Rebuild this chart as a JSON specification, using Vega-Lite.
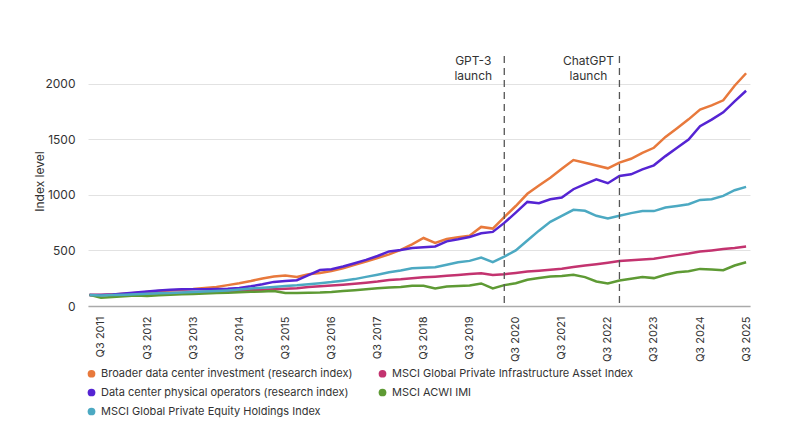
{
  "$schema": "https://vega.github.io/schema/vega-lite/v6.json",
  "width": 662,
  "height": 250,
  "autosize": "none",
  "padding": {"left": 88, "top": 56, "right": 50, "bottom": 140},
  "background": "white",
  "config": {
    "font": "Inter",
    "view": {"stroke": null},
    "axis": {"labelColor": "#333", "titleColor": "#333", "labelFontSize": 12, "titleFontSize": 12, "titleFontWeight": "normal"}
  },
  "datasets": {
    "names": [
      {"key": "bdc", "name": "Broader data center investment (research index)"},
      {"key": "inf", "name": "MSCI Global Private Infrastructure Asset Index"},
      {"key": "dcp", "name": "Data center physical operators (research index)"},
      {"key": "acwi", "name": "MSCI ACWI IMI"},
      {"key": "pe", "name": "MSCI Global Private Equity Holdings Index"}
    ],
    "events": [
      {"d": "2020-04-01", "label": ["GPT-3", "launch"]},
      {"d": "2022-10-01", "label": ["ChatGPT", "launch"]}
    ],
    "quarters": [
      {"d": "2011-04-01", "bdc": 100, "dcp": 100, "pe": 100, "inf": 100, "acwi": 100},
      {"d": "2011-07-01", "bdc": 98, "dcp": 100, "pe": 95, "inf": 100, "acwi": 74},
      {"d": "2011-10-01", "bdc": 103, "dcp": 104, "pe": 98, "inf": 102, "acwi": 80},
      {"d": "2012-01-01", "bdc": 110, "dcp": 112, "pe": 102, "inf": 105, "acwi": 88},
      {"d": "2012-04-01", "bdc": 118, "dcp": 122, "pe": 106, "inf": 108, "acwi": 95},
      {"d": "2012-07-01", "bdc": 126, "dcp": 131, "pe": 110, "inf": 111, "acwi": 90},
      {"d": "2012-10-01", "bdc": 134, "dcp": 140, "pe": 114, "inf": 114, "acwi": 96},
      {"d": "2013-01-01", "bdc": 140, "dcp": 146, "pe": 118, "inf": 117, "acwi": 101},
      {"d": "2013-04-01", "bdc": 146, "dcp": 150, "pe": 122, "inf": 120, "acwi": 105},
      {"d": "2013-07-01", "bdc": 152, "dcp": 150, "pe": 126, "inf": 123, "acwi": 108},
      {"d": "2013-10-01", "bdc": 162, "dcp": 150, "pe": 130, "inf": 126, "acwi": 112},
      {"d": "2014-01-01", "bdc": 172, "dcp": 152, "pe": 134, "inf": 130, "acwi": 118},
      {"d": "2014-04-01", "bdc": 188, "dcp": 155, "pe": 140, "inf": 134, "acwi": 120},
      {"d": "2014-07-01", "bdc": 205, "dcp": 162, "pe": 148, "inf": 138, "acwi": 124},
      {"d": "2014-10-01", "bdc": 225, "dcp": 177, "pe": 158, "inf": 142, "acwi": 128},
      {"d": "2015-01-01", "bdc": 248, "dcp": 195, "pe": 165, "inf": 146, "acwi": 130},
      {"d": "2015-04-01", "bdc": 265, "dcp": 217, "pe": 172, "inf": 150, "acwi": 135},
      {"d": "2015-07-01", "bdc": 275, "dcp": 225, "pe": 180, "inf": 155, "acwi": 118},
      {"d": "2015-10-01", "bdc": 262, "dcp": 232, "pe": 186, "inf": 160, "acwi": 118},
      {"d": "2016-01-01", "bdc": 285, "dcp": 278, "pe": 195, "inf": 170, "acwi": 120},
      {"d": "2016-04-01", "bdc": 298, "dcp": 324, "pe": 205, "inf": 178, "acwi": 122},
      {"d": "2016-07-01", "bdc": 315, "dcp": 330, "pe": 215, "inf": 185, "acwi": 127},
      {"d": "2016-10-01", "bdc": 340, "dcp": 355, "pe": 228, "inf": 192, "acwi": 135},
      {"d": "2017-01-01", "bdc": 370, "dcp": 385, "pe": 242, "inf": 200, "acwi": 142},
      {"d": "2017-04-01", "bdc": 400, "dcp": 415, "pe": 262, "inf": 210, "acwi": 150},
      {"d": "2017-07-01", "bdc": 432, "dcp": 450, "pe": 282, "inf": 220, "acwi": 160},
      {"d": "2017-10-01", "bdc": 465, "dcp": 491, "pe": 303, "inf": 233, "acwi": 167},
      {"d": "2018-01-01", "bdc": 505, "dcp": 505, "pe": 320, "inf": 240, "acwi": 172},
      {"d": "2018-04-01", "bdc": 555, "dcp": 521, "pe": 339, "inf": 250, "acwi": 182},
      {"d": "2018-07-01", "bdc": 612, "dcp": 528, "pe": 344, "inf": 258, "acwi": 182},
      {"d": "2018-10-01", "bdc": 567, "dcp": 536, "pe": 348, "inf": 264, "acwi": 158},
      {"d": "2019-01-01", "bdc": 603, "dcp": 582, "pe": 372, "inf": 272, "acwi": 175},
      {"d": "2019-04-01", "bdc": 618, "dcp": 600, "pe": 394, "inf": 280, "acwi": 179},
      {"d": "2019-07-01", "bdc": 633, "dcp": 621, "pe": 406, "inf": 287, "acwi": 185},
      {"d": "2019-10-01", "bdc": 712, "dcp": 654, "pe": 436, "inf": 294, "acwi": 203},
      {"d": "2020-01-01", "bdc": 697, "dcp": 667, "pe": 394, "inf": 279, "acwi": 158},
      {"d": "2020-04-01", "bdc": 800, "dcp": 748, "pe": 445, "inf": 285, "acwi": 188},
      {"d": "2020-07-01", "bdc": 900, "dcp": 840, "pe": 500, "inf": 298, "acwi": 205},
      {"d": "2020-10-01", "bdc": 1010, "dcp": 937, "pe": 590, "inf": 310, "acwi": 236},
      {"d": "2021-01-01", "bdc": 1085, "dcp": 925, "pe": 678, "inf": 318, "acwi": 251},
      {"d": "2021-04-01", "bdc": 1155, "dcp": 961, "pe": 758, "inf": 326, "acwi": 266},
      {"d": "2021-07-01", "bdc": 1235, "dcp": 976, "pe": 812, "inf": 336, "acwi": 269},
      {"d": "2021-10-01", "bdc": 1313, "dcp": 1051, "pe": 866, "inf": 350, "acwi": 281},
      {"d": "2022-01-01", "bdc": 1290, "dcp": 1096, "pe": 857, "inf": 364, "acwi": 260},
      {"d": "2022-04-01", "bdc": 1265, "dcp": 1140, "pe": 812, "inf": 376, "acwi": 221},
      {"d": "2022-07-01", "bdc": 1239, "dcp": 1105, "pe": 788, "inf": 390, "acwi": 203},
      {"d": "2022-10-01", "bdc": 1290, "dcp": 1170, "pe": 812, "inf": 404, "acwi": 230},
      {"d": "2023-01-01", "bdc": 1325, "dcp": 1185, "pe": 836, "inf": 412, "acwi": 245},
      {"d": "2023-04-01", "bdc": 1379, "dcp": 1230, "pe": 854, "inf": 418, "acwi": 260},
      {"d": "2023-07-01", "bdc": 1424, "dcp": 1266, "pe": 854, "inf": 426, "acwi": 251},
      {"d": "2023-10-01", "bdc": 1522, "dcp": 1349, "pe": 887, "inf": 442, "acwi": 281},
      {"d": "2024-01-01", "bdc": 1600, "dcp": 1424, "pe": 901, "inf": 458, "acwi": 304},
      {"d": "2024-04-01", "bdc": 1680, "dcp": 1498, "pe": 916, "inf": 472, "acwi": 313},
      {"d": "2024-07-01", "bdc": 1767, "dcp": 1618, "pe": 955, "inf": 490, "acwi": 334},
      {"d": "2024-10-01", "bdc": 1806, "dcp": 1678, "pe": 961, "inf": 500, "acwi": 328},
      {"d": "2025-01-01", "bdc": 1851, "dcp": 1743, "pe": 991, "inf": 512, "acwi": 322},
      {"d": "2025-04-01", "bdc": 1982, "dcp": 1842, "pe": 1042, "inf": 522, "acwi": 364},
      {"d": "2025-07-01", "bdc": 2095, "dcp": 1937, "pe": 1072, "inf": 535, "acwi": 394}
    ]
  },
  "layer": [
    {
      "data": {"name": "quarters"},
      "transform": [
        {"fold": ["bdc", "inf", "dcp", "acwi", "pe"], "as": ["key", "v"]},
        {"lookup": "key", "from": {"data": {"name": "names"}, "key": "key", "fields": ["name"]}}
      ],
      "mark": {"type": "line", "strokeWidth": 2.5},
      "encoding": {
        "x": {
          "field": "d",
          "type": "temporal",
          "scale": {"type": "utc", "domain": [{"year": 2011, "month": 3, "date": 20, "utc": true}, {"year": 2025, "month": 8, "date": 1, "utc": true}]},
          "axis": {
            "title": null,
            "values": [
              {"year": 2011, "month": 7, "date": 1, "utc": true}, {"year": 2012, "month": 7, "date": 1, "utc": true},
              {"year": 2013, "month": 7, "date": 1, "utc": true}, {"year": 2014, "month": 7, "date": 1, "utc": true},
              {"year": 2015, "month": 7, "date": 1, "utc": true}, {"year": 2016, "month": 7, "date": 1, "utc": true},
              {"year": 2017, "month": 7, "date": 1, "utc": true}, {"year": 2018, "month": 7, "date": 1, "utc": true},
              {"year": 2019, "month": 7, "date": 1, "utc": true}, {"year": 2020, "month": 7, "date": 1, "utc": true},
              {"year": 2021, "month": 7, "date": 1, "utc": true}, {"year": 2022, "month": 7, "date": 1, "utc": true},
              {"year": 2023, "month": 7, "date": 1, "utc": true}, {"year": 2024, "month": 7, "date": 1, "utc": true},
              {"year": 2025, "month": 7, "date": 1, "utc": true}
            ],
            "labelExpr": "'Q3 ' + utcFormat(datum.value, '%Y')",
            "labelAngle": -90,
            "labelFontSize": 11,
            "labelPadding": 10,
            "labelOverlap": false,
            "labelBound": false,
            "labelFlush": false,
            "ticks": false,
            "grid": false,
            "domainColor": "#aaa",
            "domainWidth": 1.5
          }
        },
        "y": {
          "field": "v",
          "type": "quantitative",
          "scale": {"domain": [0, 2250], "nice": false},
          "axis": {
            "title": "Index level",
            "values": [0, 500, 1000, 1500, 2000],
            "format": "d",
            "domain": false,
            "ticks": false,
            "labelPadding": 13,
            "titlePadding": -2,
            "gridColor": "#e2e2e2"
          }
        },
        "color": {
          "field": "name",
          "type": "nominal",
          "scale": {
            "domain": [
              "Broader data center investment (research index)",
              "Data center physical operators (research index)",
              "MSCI Global Private Equity Holdings Index",
              "MSCI Global Private Infrastructure Asset Index",
              "MSCI ACWI IMI"
            ],
            "range": ["#e8793c", "#5524d3", "#4ca9c2", "#c3336f", "#5e9a34"]
          },
          "legend": {
            "title": null,
            "orient": "none",
            "legendX": -2,
            "legendY": 312,
            "columns": 2,
            "symbolType": "circle",
            "symbolSize": 60,
            "symbolStrokeWidth": 0,
            "labelFontSize": 11,
            "labelColor": "#333",
            "labelLimit": 400,
            "rowPadding": 7,
            "columnPadding": 24,
            "encode": {"symbols": {"update": {"fill": {"scale": "color", "field": "value"}, "fillOpacity": {"value": 1}}}}
          }
        }
      }
    },
    {
      "data": {"name": "events"},
      "mark": {"type": "rule", "color": "#555", "strokeDash": [7, 5], "strokeWidth": 1.3},
      "encoding": {"x": {"field": "d", "type": "temporal"}}
    },
    {
      "data": {"name": "events"},
      "mark": {"type": "text", "align": "center", "baseline": "top", "dx": -31, "fontSize": 12, "lineHeight": 15, "color": "#333"},
      "encoding": {
        "x": {"field": "d", "type": "temporal"},
        "y": {"datum": 2250},
        "text": {"field": "label"}
      }
    }
  ]
}
